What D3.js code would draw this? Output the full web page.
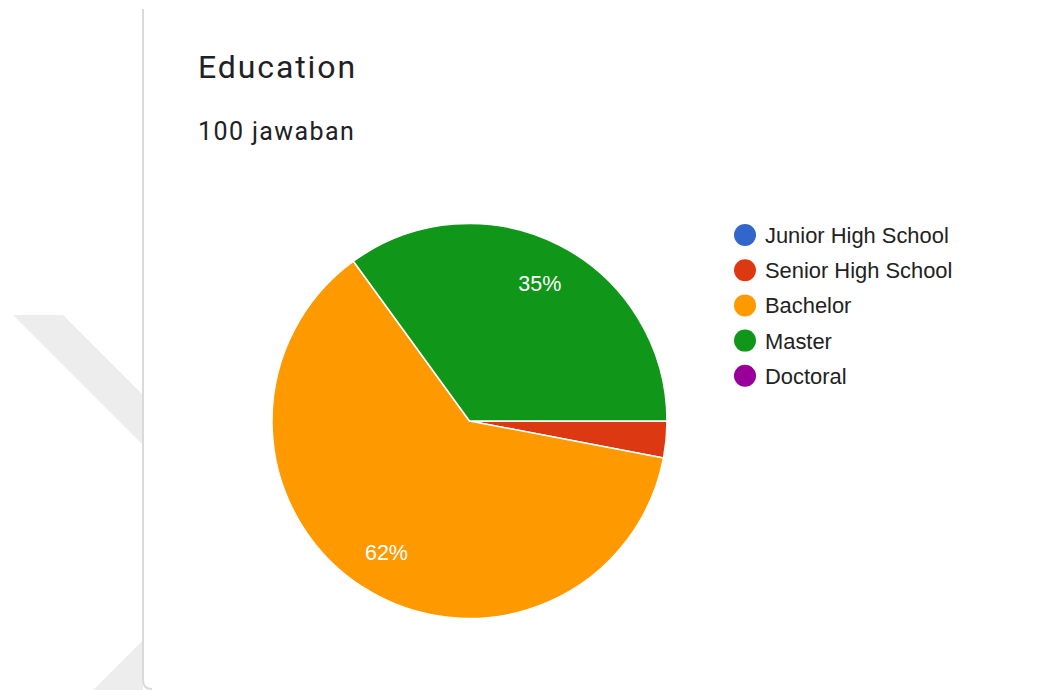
<!DOCTYPE html>
<html>
<head>
<meta charset="utf-8">
<script src="https://cdn.jsdelivr.net/npm/d3@7"></script>
<style>
  html, body { margin: 0; padding: 0; background: #ffffff; }
  svg { display: block; }
</style>
</head>
<body>
<svg id="chart" width="1040" height="690"></svg>
<script>
// Survey responses: Education level
const categories = ["Junior High School", "Senior High School", "Bachelor", "Master", "Doctoral"];
const values = [0, 3, 62, 35, 0];
const colors = ["#3366cc", "#dc3912", "#ff9900", "#109618", "#990099"];
const title = "Education";
const subtitle = "100 jawaban";

const svg = d3.select("#chart");

// faint diagonal watermark behind the card
const wm = svg.append("g").attr("fill", "#ededed");
wm.append("polygon").attr("points", "13,315 63,315 143,395 143,445");
wm.append("polygon").attr("points", "93,690 143,640 143,690");

// card edge (left side with rounded bottom corner)
svg.append("path")
  .attr("d", "M143,9 V680 Q143,689 152,689")
  .attr("fill", "none")
  .attr("stroke", "#dadada")
  .attr("stroke-width", 2);

// titles
svg.append("text")
  .attr("x", 198).attr("y", 78)
  .attr("font-family", "Roboto, 'Open Sans', sans-serif")
  .attr("font-size", 32)
  .attr("letter-spacing", 1.9)
  .attr("fill", "#202124")
  .text(title);

svg.append("text")
  .attr("x", 198).attr("y", 140)
  .attr("font-family", "Roboto, 'Open Sans', sans-serif")
  .attr("font-size", 25)
  .attr("letter-spacing", 1.4)
  .attr("fill", "#202124")
  .text(subtitle);

// pie
const cx = 469.5, cy = 421, R = 197.5;
const total = d3.sum(values);
const data = categories.map((c, i) => ({ name: c, value: values[i], color: colors[i] }));

const pie = d3.pie()
  .value(d => d.value)
  .sort(null)
  .startAngle(Math.PI / 2)
  .endAngle(Math.PI / 2 + 2 * Math.PI);

const arcs = pie(data);
const arc = d3.arc().innerRadius(0).outerRadius(R);
const labelArc = d3.arc().innerRadius(155).outerRadius(155);

const g = svg.append("g").attr("transform", `translate(${cx},${cy})`);

g.selectAll("path.slice")
  .data(arcs.filter(a => a.data.value > 0))
  .join("path")
  .attr("class", "slice")
  .attr("d", arc)
  .attr("fill", d => d.data.color)
  .attr("stroke", "#ffffff")
  .attr("stroke-width", 1.5)
  .attr("stroke-linejoin", "round");

// percentage labels on slices large enough to hold them
g.selectAll("text.pct")
  .data(arcs.filter(a => a.data.value / total >= 0.05))
  .join("text")
  .attr("class", "pct")
  .attr("transform", d => `translate(${labelArc.centroid(d)})`)
  .attr("text-anchor", "middle")
  .attr("dy", "0.36em")
  .attr("font-family", "'Liberation Sans', Arial, sans-serif")
  .attr("font-size", 21.5)
  .attr("fill", "#ffffff")
  .text(d => Math.round(d.data.value / total * 100) + "%");

// legend
const legend = svg.append("g").attr("transform", "translate(745,235)");
const item = legend.selectAll("g.item")
  .data(data)
  .join("g")
  .attr("class", "item")
  .attr("transform", (d, i) => `translate(0,${i * 35.2})`);

item.append("circle")
  .attr("r", 11)
  .attr("fill", d => d.color);

item.append("text")
  .attr("x", 20)
  .attr("y", 8)
  .attr("font-family", "'Liberation Sans', Arial, sans-serif")
  .attr("font-size", 21.9)
  .attr("fill", "#222222")
  .text(d => d.name);
</script>
</body>
</html>
